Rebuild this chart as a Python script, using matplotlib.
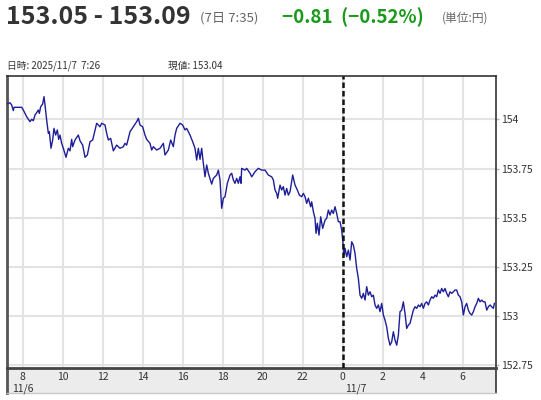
import matplotlib
matplotlib.use("Agg")
import matplotlib.pyplot as plt

plt.rcParams['font.family'] = ['Noto Sans CJK JP', 'DejaVu Sans']

# minutes since 2025/11/6 00:00 (JST)
minutes = [
    432, 442, 447, 452, 454, 477, 482, 492, 502, 507, 512, 517, 522, 527, 530, 534,
    540, 544, 547, 552, 557, 560, 565, 570, 574, 579, 584, 588, 592, 597, 602, 610,
    617, 622, 627, 630, 637, 647, 652, 660, 667, 674, 682, 690, 697, 702, 712, 717,
    727, 732, 737, 744, 752, 762, 772, 782, 787, 792, 802, 812, 822, 827, 832, 840,
    847, 852, 862, 867, 872, 882, 892, 902, 907, 917, 924, 932, 937, 942, 952, 960,
    967, 972, 982, 990, 997, 1002, 1007, 1012, 1017, 1022, 1027, 1032, 1037, 1047, 1052, 1062,
    1067, 1072, 1077, 1082, 1087, 1094, 1102, 1107, 1112, 1117, 1122, 1127, 1132, 1135, 1137, 1147,
    1152, 1162, 1167, 1177, 1187, 1197, 1207, 1217, 1227, 1232, 1237, 1242, 1245, 1252, 1257, 1262,
    1267, 1272, 1277, 1282, 1290, 1297, 1304, 1310, 1317, 1322, 1327, 1332, 1337, 1344, 1347, 1352,
    1357, 1360, 1364, 1369, 1374, 1380, 1387, 1392, 1397, 1402, 1407, 1412, 1417, 1422, 1427, 1432,
    1437, 1442, 1444, 1447, 1452, 1457, 1462, 1467, 1472, 1477, 1482, 1487, 1492, 1497, 1502, 1507,
    1512, 1517, 1522, 1527, 1532, 1537, 1542, 1547, 1552, 1557, 1562, 1567, 1572, 1577, 1582, 1587,
    1592, 1597, 1602, 1607, 1612, 1617, 1622, 1627, 1632, 1637, 1642, 1647, 1652, 1657, 1662, 1667,
    1672, 1677, 1682, 1687, 1692, 1697, 1702, 1707, 1712, 1717, 1722, 1727, 1732, 1737, 1742, 1747,
    1752, 1757, 1762, 1767, 1772, 1777, 1782, 1787, 1792, 1797, 1802, 1807, 1812, 1817, 1822, 1827,
    1832, 1837, 1842, 1847, 1852, 1857, 1862, 1867, 1872, 1877, 1882, 1887, 1892, 1895,
]
prices = [
    154.078, 154.084, 154.073, 154.044, 154.061, 154.061, 154.047, 154.013, 153.988, 154.000, 153.993, 154.022, 154.034, 154.047, 154.030, 154.064,
    154.078, 154.115, 154.073, 153.996, 153.929, 153.937, 153.853, 153.895, 153.954, 153.920, 153.946, 153.898, 153.920, 153.878, 153.853, 153.807,
    153.853, 153.840, 153.898, 153.861, 153.895, 153.920, 153.891, 153.869, 153.807, 153.819, 153.886, 153.895, 153.946, 153.980, 153.962, 153.980,
    153.971, 153.929, 153.895, 153.903, 153.840, 153.869, 153.853, 153.861, 153.878, 153.869, 153.937, 153.962, 153.988, 154.005, 153.971, 153.962,
    153.920, 153.898, 153.878, 153.844, 153.861, 153.844, 153.853, 153.878, 153.819, 153.844, 153.895, 153.861, 153.920, 153.954, 153.980, 153.971,
    153.946, 153.954, 153.920, 153.886, 153.853, 153.793, 153.853, 153.797, 153.853, 153.776, 153.708, 153.768, 153.726, 153.671, 153.700, 153.717,
    153.742, 153.692, 153.548, 153.599, 153.607, 153.675, 153.717, 153.726, 153.692, 153.675, 153.700, 153.675, 153.708, 153.675, 153.751, 153.742,
    153.751, 153.726, 153.708, 153.734, 153.751, 153.742, 153.742, 153.717, 153.708, 153.692, 153.641, 153.624, 153.599, 153.666, 153.641, 153.658,
    153.615, 153.649, 153.615, 153.632, 153.717, 153.666, 153.641, 153.615, 153.607, 153.624, 153.607, 153.573, 153.599, 153.556, 153.581, 153.531,
    153.497, 153.421, 153.472, 153.412, 153.505, 153.446, 153.488, 153.497, 153.539, 153.514, 153.539, 153.522, 153.556, 153.522, 153.480, 153.480,
    153.438, 153.353, 153.311, 153.345, 153.302, 153.336, 153.285, 153.378, 153.361, 153.319, 153.243, 153.192, 153.107, 153.091, 153.116, 153.082,
    153.150, 153.107, 153.124, 153.099, 153.107, 153.057, 153.040, 153.057, 153.023, 153.065, 153.006, 152.980, 152.946, 152.888, 152.853, 152.870,
    152.921, 152.879, 152.853, 152.904, 153.023, 153.031, 153.073, 153.014, 152.938, 152.955, 152.964, 152.997, 153.031, 153.048, 153.040, 153.057,
    153.048, 153.065, 153.040, 153.065, 153.073, 153.057, 153.082, 153.099, 153.091, 153.107, 153.099, 153.133, 153.116, 153.141, 153.124, 153.141,
    153.116, 153.099, 153.124, 153.116, 153.124, 153.133, 153.133, 153.107, 153.099, 153.073, 153.006, 153.048, 153.065, 153.031, 153.014, 153.006,
    153.023, 153.048, 153.065, 153.091, 153.073, 153.082, 153.073, 153.073, 153.031, 153.048, 153.057, 153.048, 153.040, 153.065,
]

hour_ticks = list(range(480, 1900, 120))
hour_labels = ['8', '10', '12', '14', '16', '18', '20', '22', '0', '2', '4', '6']
price_ticks = [152.75, 153.0, 153.25, 153.5, 153.75, 154.0]
price_labels = ['152.75', '153', '153.25', '153.5', '153.75', '154']
day_labels = {'11/6': 480, '11/7': 1480}
day_break = 1440

W, H = 541, 400
fig = plt.figure(figsize=(W / 100, H / 100), dpi=100)
fig.patch.set_facecolor('white')

x0, x1, y0, y1, yb = 6.5, 495.7, 76, 368, 393
ax = fig.add_axes([x0 / W, 1 - y1 / H, (x1 - x0) / W, (y1 - y0) / H])
# gray time band under the plot
bx = fig.add_axes([x0 / W, 1 - yb / H, (x1 - x0) / W, (yb - y1) / H], zorder=-1)

ax.plot(minutes, prices, color='#1e1e98', lw=1.0, zorder=3)
ax.axvline(day_break, color='#111111', lw=1.8, ls=(0, (2.2, 1.2)), zorder=4)

ax.set_xlim(431.5, 1899)
ax.set_ylim(152.737, 154.22)
ax.set_xticks(hour_ticks)
ax.set_yticks(price_ticks)
ax.grid(True, color='#e3e3e3', lw=1.5, zorder=0)
ax.set_axisbelow(True)

ax.yaxis.tick_right()
ax.set_yticklabels(price_labels)
ax.tick_params(axis='y', length=2, width=1, color='#9ab8d8', pad=2,
               labelsize=7.5, labelcolor='#333333')
ax.set_xticklabels([])
ax.tick_params(axis='x', length=0)

for side in ['top', 'right']:
    ax.spines[side].set_color('#333333')
    ax.spines[side].set_linewidth(1.2)
ax.spines['left'].set_color('#555555')
ax.spines['left'].set_linewidth(2)
ax.spines['bottom'].set_color('#444444')
ax.spines['bottom'].set_linewidth(2)

bx.set_facecolor('#ececec')
bx.set_xlim(ax.get_xlim())
bx.set_ylim(0, 1)
bx.set_xticks([])
bx.set_yticks([])
bx.spines['top'].set_visible(False)
bx.spines['left'].set_color('#555555')
bx.spines['left'].set_linewidth(2)
bx.spines['right'].set_color('#333333')
bx.spines['right'].set_linewidth(1.2)
bx.spines['bottom'].set_color('#c8c8c8')
bx.spines['bottom'].set_linewidth(1)

for t, lab in zip(hour_ticks, hour_labels):
    bx.text(t, 0.62, lab, ha='center', va='center', fontsize=7.5, color='#333333')
for lab, t in day_labels.items():
    bx.text(t, 0.15, lab, ha='center', va='center', fontsize=7.5, color='#333333')

# header
fig.text(6 / W, 1 - 17 / H, '153.05 - 153.09', fontsize=18, fontweight='bold',
         color='#333333', va='center', ha='left')
fig.text(200 / W, 1 - 18 / H, '(7日 7:35)', fontsize=9.5, color='#666666', va='center', ha='left')
fig.text(282 / W, 1 - 17 / H, '\u22120.81  (\u22120.52%)', fontsize=13.5, fontweight='bold',
         color='#1a9a1a', va='center', ha='left')
fig.text(442 / W, 1 - 18 / H, '(単位:円)', fontsize=8.5, color='#666666', va='center', ha='left')

fig.text(7 / W, 1 - 66 / H, '日時: 2025/11/7  7:26', fontsize=7, color='#333333', va='center', ha='left')
fig.text(168 / W, 1 - 66 / H, '現値: 153.04', fontsize=7, color='#333333', va='center', ha='left')

fig.savefig('out.png', dpi=100)
